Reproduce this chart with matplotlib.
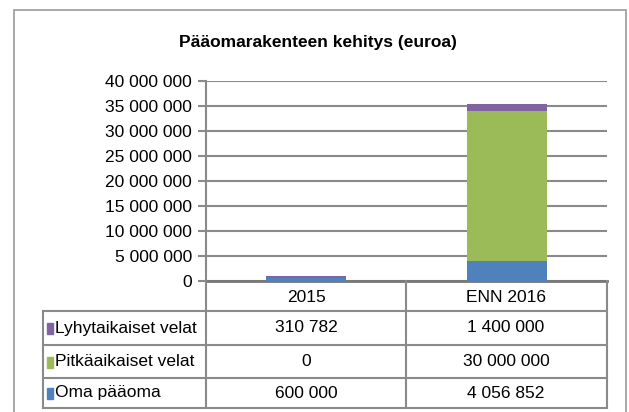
import matplotlib.pyplot as plt
from matplotlib.patches import Rectangle
from matplotlib.ticker import FuncFormatter, MultipleLocator

plt.rcParams['font.family'] = ['Liberation Sans Narrow', 'Liberation Sans', 'DejaVu Sans']

# Data
years = ['2015', 'ENN 2016']
series = ['Oma pääoma', 'Pitkäaikaiset velat', 'Lyhytaikaiset velat']
oma_paaoma = [600000, 4056852]
pitkat_velat = [0, 30000000]
lyhyet_velat = [310782, 1400000]
colors = ['#4F81BD', '#9BBB59', '#8064A2']

W, H = 629, 412
grid_c = '#8a8a8a'


def fmt(v):
    return f"{int(v):,}".replace(',', ' ')


def fx(px):
    return px / W


def fy(py):
    return 1 - py / H


fig = plt.figure(figsize=(W / 100, H / 100), dpi=100)

# outer chart frame
fig.patches.append(Rectangle((fx(14), fy(430)), fx(626) - fx(14), fy(10) - fy(430),
                             transform=fig.transFigure, fill=False, ec='#999999', lw=1.2))

fig.text(fx(318), fy(43), 'Pääomarakenteen kehitys (euroa)', ha='center', va='center',
         fontsize=12.5, fontweight='bold')

# plot area
ax = fig.add_axes([fx(206), fy(281), fx(607) - fx(206), fy(81) - fy(281)])
x = list(range(len(years)))
bottom = [0, 0]
for vals, c in zip([oma_paaoma, pitkat_velat, lyhyet_velat], colors):
    ax.bar(x, vals, width=0.4, bottom=bottom, color=c, zorder=3)
    bottom = [b + v for b, v in zip(bottom, vals)]

ax.set_xlim(-0.5, 1.5)
ax.set_ylim(0, 40000000)
ax.yaxis.set_major_locator(MultipleLocator(5000000))
ax.yaxis.set_major_formatter(FuncFormatter(lambda v, p: fmt(v)))
ax.grid(axis='y', color=grid_c, lw=1.5, zorder=0)
ax.set_xticks([])
ax.tick_params(axis='y', length=6, width=1.5, color=grid_c, labelsize=12.5, pad=4)
for s in ['top', 'right']:
    ax.spines[s].set_visible(False)
ax.spines['left'].set_color(grid_c)
ax.spines['left'].set_linewidth(1.5)
ax.spines['bottom'].set_color('#777777')
ax.spines['bottom'].set_linewidth(2)

# data table below
tab = fig.add_axes([fx(43), fy(408), fx(607) - fx(43), fy(281) - fy(408)])
tab.set_xlim(0, 564)
tab.set_ylim(127, 0)
tab.axis('off')
lc = dict(color=grid_c, lw=1.5, clip_on=False)
tab.plot([163, 163], [0, 127], **lc)
tab.plot([363, 363], [0, 127], **lc)
tab.plot([564, 564], [0, 127], **lc)
tab.plot([0, 0], [30, 127], **lc)
for yy in [30, 64, 97]:
    tab.plot([0, 564], [yy, yy], **lc)
tab.plot([0, 564], [127, 127], **lc)

col_centers = [263, 463]
for cx, yr in zip(col_centers, years):
    tab.text(cx, 16, yr, ha='center', va='center', fontsize=12.5)

rows = [('Lyhytaikaiset velat', lyhyet_velat, colors[2]),
        ('Pitkäaikaiset velat', pitkat_velat, colors[1]),
        ('Oma pääoma', oma_paaoma, colors[0])]
row_mid = [47, 80.5, 112]
for (name, vals, c), ym in zip(rows, row_mid):
    tab.add_patch(Rectangle((4, ym - 5), 6, 11, color=c, clip_on=False))
    tab.text(12, ym, name, ha='left', va='center', fontsize=12.5)
    for cx, v in zip(col_centers, vals):
        tab.text(cx, ym, fmt(v), ha='center', va='center', fontsize=12.5)

fig.savefig('out.png', dpi=100)
